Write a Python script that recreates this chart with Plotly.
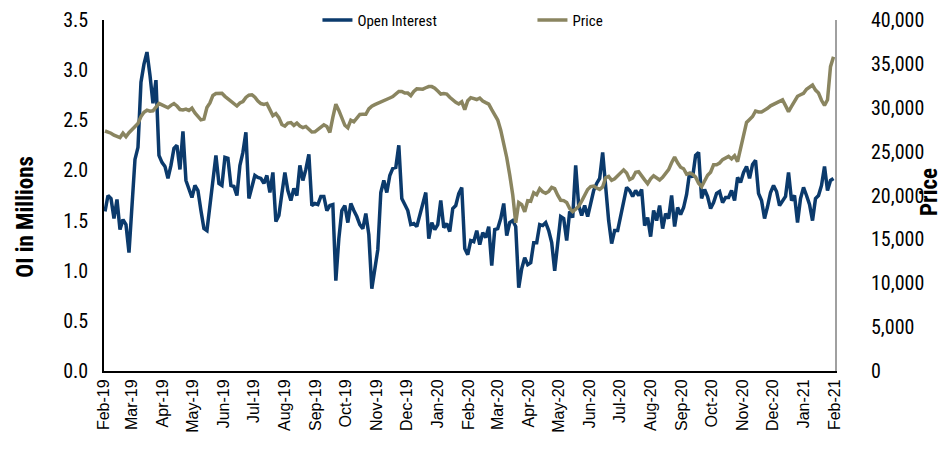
import pandas as pd
import plotly.graph_objects as go

# every third day, Feb-2019 .. Jan-2021
dates = pd.date_range("2019-02-02", periods=244, freq="3D")

open_interest = [
    1.59, 1.75, 1.72, 1.52, 1.71, 1.41, 1.51, 1.46, 1.18, 1.70,
    2.11, 2.23, 2.88, 3.06, 3.18, 2.95, 2.67, 2.90, 2.15, 2.08,
    2.04, 1.92, 2.05, 2.22, 2.25, 2.01, 2.39, 1.90, 1.82, 1.73,
    1.85, 1.80, 1.60, 1.42, 1.40, 1.65, 1.95, 2.15, 1.87, 1.85,
    2.13, 2.12, 1.85, 1.84, 1.75, 2.05, 2.18, 2.38, 1.72, 1.85,
    1.95, 1.93, 1.92, 1.87, 1.95, 1.78, 1.98, 1.49, 1.55, 1.77,
    1.98, 1.80, 1.70, 1.82, 1.75, 2.05, 1.90, 2.01, 2.16, 1.65,
    1.67, 1.66, 1.74, 1.74, 1.60, 1.65, 1.66, 0.90, 1.32, 1.60,
    1.65, 1.48, 1.67, 1.60, 1.54, 1.46, 1.42, 1.57, 1.36, 0.82,
    1.03, 1.21, 1.78, 1.90, 1.78, 1.95, 2.02, 2.03, 2.25, 1.72,
    1.66, 1.60, 1.46, 1.47, 1.44, 1.55, 1.67, 1.78, 1.32, 1.48,
    1.41, 1.46, 1.70, 1.43, 1.47, 1.39, 1.62, 1.65, 1.77, 1.83,
    1.22, 1.16, 1.30, 1.29, 1.40, 1.26, 1.38, 1.33, 1.44, 1.05,
    1.41, 1.42, 1.52, 1.67, 1.35, 1.48, 1.50, 1.44, 0.83, 1.02,
    1.13, 1.06, 1.08, 1.28, 1.28, 1.46, 1.45, 1.48, 1.40, 1.28,
    1.00, 1.30, 1.54, 1.52, 1.30, 1.59, 1.53, 2.05, 1.65, 1.55,
    1.65, 1.54, 1.69, 1.80, 1.87, 1.92, 2.18, 1.82, 1.50, 1.27,
    1.40, 1.40, 1.55, 1.70, 1.83, 1.80, 1.74, 1.80, 1.75, 1.81,
    1.45, 1.53, 1.34, 1.60, 1.50, 1.65, 1.42, 1.57, 1.52, 1.75,
    1.44, 1.63, 1.56, 1.63, 1.76, 1.98, 1.93, 2.15, 2.18, 1.72,
    1.81, 1.74, 1.62, 1.68, 1.77, 1.79, 1.68, 1.73, 1.73, 1.80,
    1.70, 1.93, 1.88, 1.98, 2.04, 1.92, 2.06, 2.10, 1.77, 1.70,
    1.52, 1.64, 1.78, 1.85, 1.79, 1.65, 1.70, 1.74, 1.98, 1.70,
    1.75, 1.48, 1.72, 1.83, 1.75, 1.66, 1.50, 1.72, 1.75, 1.85,
    2.04, 1.80, 1.90, 1.92,
]

price = [
    27350, 27250, 27100, 26870, 26720, 26600, 27100, 26700, 27150, 27550,
    27900, 28200, 29000, 29480, 29720, 29600, 29650, 30150, 30500, 30330,
    30170, 30000, 30270, 30480, 30200, 29800, 29750, 29850, 29680, 29950,
    29410, 29070, 28620, 28700, 30030, 30540, 31400, 31630, 31670, 31650,
    31300, 31040, 30800, 30460, 30200, 30540, 30710, 31180, 31430, 31480,
    31200, 30770, 30480, 30390, 30470, 29790, 29100, 29330, 28880, 28090,
    27900, 28250, 28310, 27990, 28260, 27910, 27740, 27870, 27510, 27230,
    27250, 27500, 27830, 28060, 27860, 27200, 28900, 30400, 29700, 28900,
    28000, 27720, 28580, 28400, 28750, 29230, 29250, 29260, 29870, 30180,
    30350, 30520, 30690, 30860, 31050, 31110, 31270, 31600, 31860, 31850,
    31670, 31670, 31380, 31850, 32150, 32140, 32120, 32280, 32420, 32410,
    32230, 31900, 31560, 31620, 31560, 31200, 30850, 30620, 30430, 30680,
    29790, 30800, 31150, 31070, 30940, 31110, 30760, 30580, 30410, 29780,
    29230, 28600, 27450, 26030, 24330, 22350, 20100, 16900, 19200, 18970,
    18140, 19400, 19350, 20320, 20090, 20770, 20430, 20250, 20470, 20920,
    20780, 20040, 19460, 19420, 19200, 18520, 18170, 18440, 18780, 19360,
    20020, 20680, 21020, 21070, 20850, 20700, 20980, 22020, 22170, 21740,
    21900, 22250, 22570, 22920, 22570, 21810, 21990, 22650, 22720, 22170,
    21780, 21350, 21900, 22250, 21980, 21770, 22070, 22460, 22950, 23740,
    24370, 23730, 23220, 23050, 22440, 22540, 22420, 22090, 21400, 21000,
    21720, 22310, 22650, 23500, 23500, 23700, 24080, 24250, 24450, 24180,
    24530, 23850, 25250, 26700, 28330, 28660, 29000, 29630, 29520, 29520,
    29700, 29940, 30220, 30390, 30560, 30730, 30900, 30240, 29560, 30150,
    30680, 31310, 31480, 31650, 32110, 32360, 32580, 32010, 31680, 30850,
    30280, 30900, 34680, 35800,
]

NARROW = "Roboto Condensed, Liberation Sans Narrow, sans-serif"

fig = go.Figure()
fig.add_trace(go.Scatter(x=dates, y=open_interest, mode="lines", name="Open Interest",
                         line=dict(color="#0b3a6c", width=3.5)))
fig.add_trace(go.Scatter(x=dates, y=price, mode="lines", name="Price", yaxis="y2",
                         line=dict(color="#8a8560", width=3.5)))

# page body keeps an 8px margin, so the figure is drawn 8px smaller each way
fig.update_layout(
    width=943, height=454,
    margin=dict(l=96, r=116, t=12, b=91, autoexpand=False),
    paper_bgcolor="white", plot_bgcolor="white",
    font=dict(family=NARROW, size=20, color="black"),
    showlegend=True,
    legend=dict(orientation="h", x=0.292, xanchor="left", y=1.046, yanchor="top",
                font=dict(size=15), bgcolor="rgba(0,0,0,0)", entrywidth=170),
    xaxis=dict(
        type="date", range=["2019-02-01", "2021-02-01 12:00"],
        tick0="2019-02-01", dtick="M1", tickformat="%b-%y", tickangle=-90,
        tickfont=dict(family="Liberation Sans, Arial, sans-serif", size=16),
        showgrid=False, showline=True, linecolor="black", linewidth=2,
        ticks="", zeroline=False, automargin=False,
    ),
    yaxis=dict(
        range=[0, 3.5], dtick=0.5, tickformat=".1f", ticklabeloverflow="allow",
        showgrid=False, showline=True, linecolor="black", linewidth=1.5,
        ticks="", zeroline=False, ticklabelstandoff=10, automargin=False,
    ),
    yaxis2=dict(
        range=[0, 40000], dtick=5000, tickformat=",", overlaying="y", side="right",
        ticklabeloverflow="allow",
        showgrid=False, showline=True, linecolor="#a0a0a0", linewidth=2,
        ticks="", zeroline=False, ticklabelstandoff=30, automargin=False,
    ),
    annotations=[
        dict(text="<b>OI in Millions</b>", textangle=-90, xref="paper", yref="paper",
             x=-0.107, y=0.439, xanchor="center", yanchor="middle", showarrow=False,
             font=dict(size=23)),
        dict(text="<b>Price</b>", textangle=-90, xref="paper", yref="paper",
             x=1.13, y=0.51, xanchor="center", yanchor="middle", showarrow=False,
             font=dict(size=23)),
    ],
)

fig.write_html("out.html")
